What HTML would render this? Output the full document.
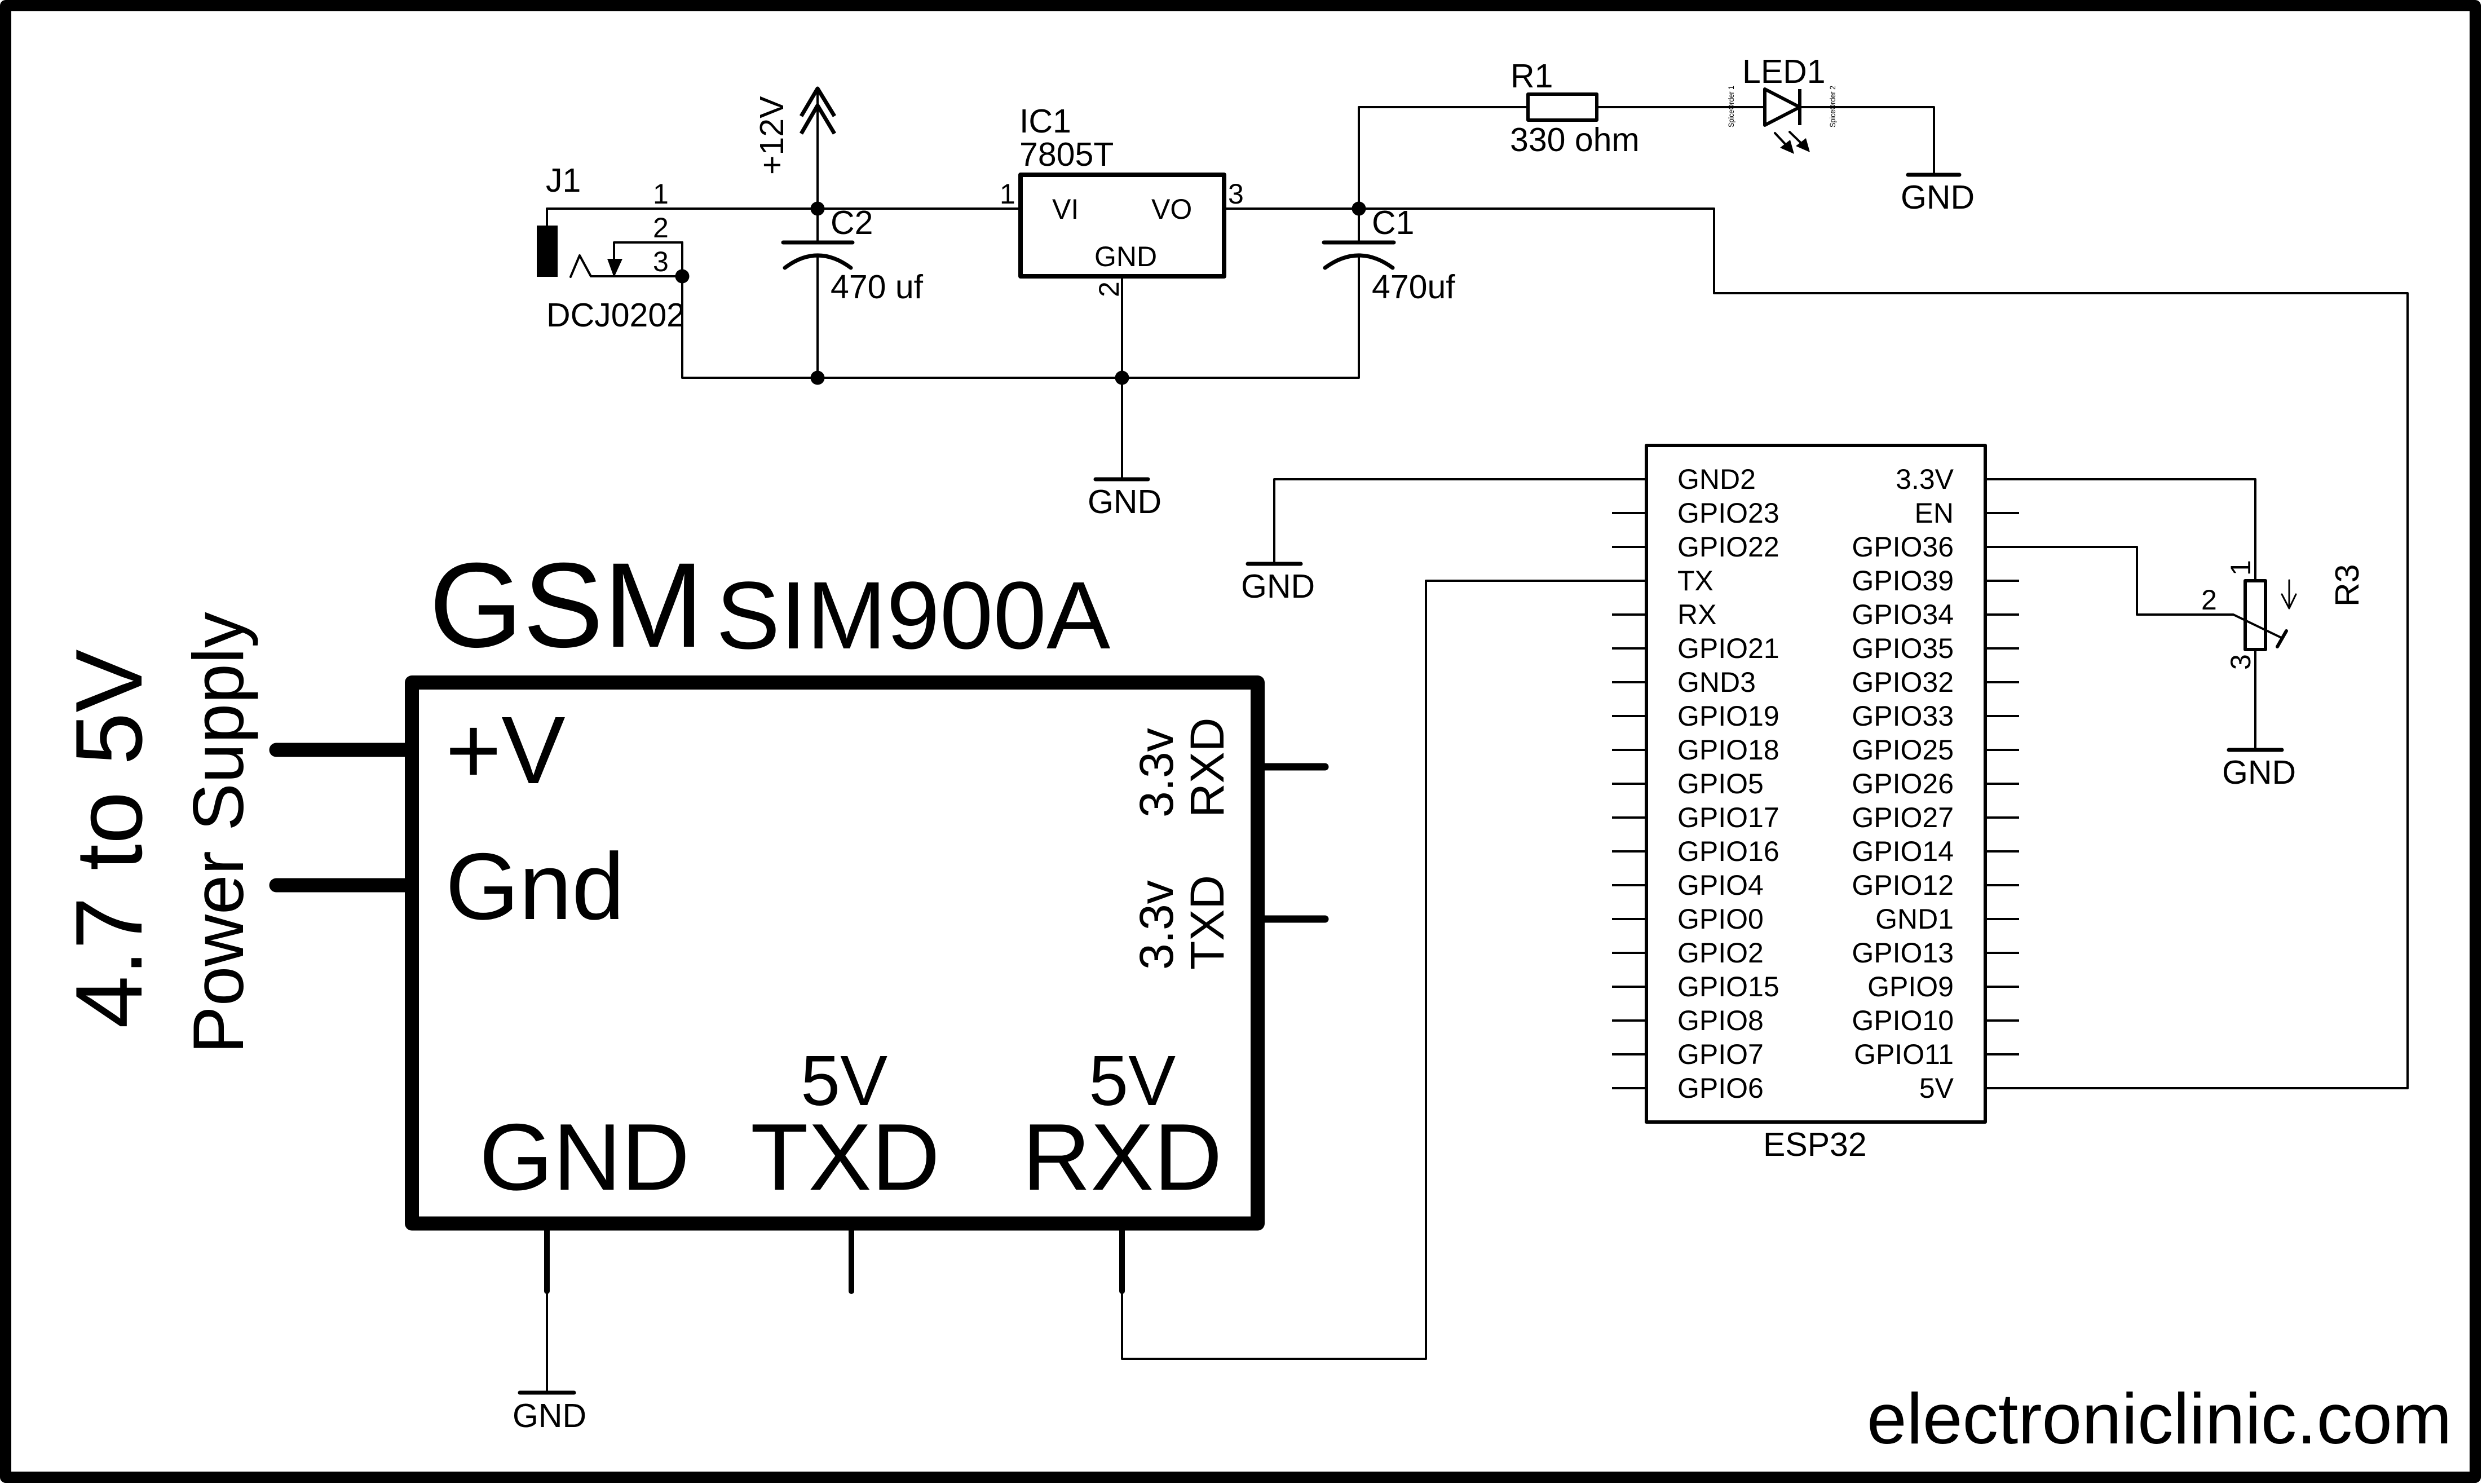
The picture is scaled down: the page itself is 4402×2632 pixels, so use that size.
<!DOCTYPE html>
<html><head><meta charset="utf-8"><style>
html,body{margin:0;padding:0;background:#fff}
svg{display:block}
text{font-family:"Liberation Sans",sans-serif;fill:#000}
.w{fill:none;stroke:#000;stroke-width:4;stroke-linecap:round;stroke-linejoin:round}
.p{fill:none;stroke:#000;stroke-width:4;stroke-linecap:butt}
.b{fill:none;stroke:#000;stroke-width:7;stroke-linecap:round;stroke-linejoin:round}
.f48{font-size:50px}.f56{font-size:59px}
</style></head><body>
<svg xmlns="http://www.w3.org/2000/svg" width="4402" height="2632" viewBox="0 0 4402 2632">
<rect width="4402" height="2632" fill="#fff"/>
<rect x="10" y="10" width="4380" height="2610" fill="none" stroke="#000" stroke-width="20" stroke-linejoin="round"/>

<!-- power section wires -->
<path class="w" d="M970 400V370H1810"/>
<path class="w" d="M1450 157V430M1450 453V670"/>
<path class="w" d="M1210 430V670H2410V453"/>
<path class="w" d="M2171 370H3040V520H4270V1930H3521"/>
<path class="w" d="M2410 430V190H2710"/>
<path class="w" d="M2832 190H3130M3192 190H3430V310"/>
<path class="w" d="M1990 490V850"/>
<path class="b" d="M1421 206L1450 157L1480 206M1421 237L1450 187L1480 237" style="stroke-linecap:butt"/>
<rect x="952" y="400" width="37" height="91"/>
<path class="w" d="M1012 491L1028 453L1048 490H1210M1089 490V430H1210"/>
<polygon points="1077,459 1104,459 1089,492"/>
<circle cx="1450" cy="370" r="12.5"/><circle cx="1210" cy="490" r="12.5"/><circle cx="1450" cy="670" r="12.5"/><circle cx="1990" cy="670" r="12.5"/><circle cx="2410" cy="370" r="12.5"/>
<path class="b" d="M1389 430H1512M2348 430H2472"/>
<path class="b" d="M1392 475Q1450 431 1509 475M2350 475Q2410 431 2470 475"/>
<rect x="1810" y="310" width="361" height="180" fill="#fff" stroke="#000" stroke-width="8" stroke-linejoin="round"/>
<path class="b" d="M1943 850H2036M3384 310H3475M2213 1000H2307M3953 1330H4047M922 2470H1018"/>
<rect x="2710" y="167" width="122" height="46" fill="none" stroke="#000" stroke-width="6" stroke-linejoin="round"/>
<path d="M3130 158V222L3192 190ZM3192 158V222" fill="none" stroke="#000" stroke-width="6" stroke-linejoin="round"/>
<path class="w" d="M3148 236L3178 268M3174 234L3206 265"/>
<polygon points="3182,273 3157,262 3175,248"/><polygon points="3210,270 3185,259 3203,245"/>

<!-- ESP32 -->
<rect x="2920" y="790" width="601" height="1200" fill="#fff" stroke="#000" stroke-width="6" stroke-linejoin="round"/>
<path class="w" d="M2917 850H2260V1000M2917 1030H2529V2410H1990V2294"/>
<path class="w" d="M3524 850H4000V1030M3524 970H3790V1090H3961L4044 1130"/>
<path class="p" d="M2859 910H2917M2859 970H2917M2859 1090H2917M2859 1150H2917M2859 1210H2917M2859 1270H2917M2859 1330H2917M2859 1390H2917M2859 1450H2917M2859 1510H2917M2859 1570H2917M2859 1630H2917M2859 1690H2917M2859 1750H2917M2859 1810H2917M2859 1870H2917M2859 1930H2917"/>
<path class="p" d="M3524 910H3581M3524 1030H3581M3524 1090H3581M3524 1150H3581M3524 1210H3581M3524 1270H3581M3524 1330H3581M3524 1390H3581M3524 1450H3581M3524 1510H3581M3524 1570H3581M3524 1630H3581M3524 1690H3581M3524 1750H3581M3524 1810H3581M3524 1870H3581"/>
<g class="f48">
<text x="2975" y="867">GND2</text><text x="2975" y="927">GPIO23</text><text x="2975" y="987">GPIO22</text><text x="2975" y="1047">TX</text><text x="2975" y="1107">RX</text><text x="2975" y="1167">GPIO21</text><text x="2975" y="1227">GND3</text><text x="2975" y="1287">GPIO19</text><text x="2975" y="1347">GPIO18</text><text x="2975" y="1407">GPIO5</text><text x="2975" y="1467">GPIO17</text><text x="2975" y="1527">GPIO16</text><text x="2975" y="1587">GPIO4</text><text x="2975" y="1647">GPIO0</text><text x="2975" y="1707">GPIO2</text><text x="2975" y="1767">GPIO15</text><text x="2975" y="1827">GPIO8</text><text x="2975" y="1887">GPIO7</text><text x="2975" y="1947">GPIO6</text>
</g>
<g class="f48" text-anchor="end">
<text x="3465" y="867">3.3V</text><text x="3465" y="927">EN</text><text x="3465" y="987">GPIO36</text><text x="3465" y="1047">GPIO39</text><text x="3465" y="1107">GPIO34</text><text x="3465" y="1167">GPIO35</text><text x="3465" y="1227">GPIO32</text><text x="3465" y="1287">GPIO33</text><text x="3465" y="1347">GPIO25</text><text x="3465" y="1407">GPIO26</text><text x="3465" y="1467">GPIO27</text><text x="3465" y="1527">GPIO14</text><text x="3465" y="1587">GPIO12</text><text x="3465" y="1647">GND1</text><text x="3465" y="1707">GPIO13</text><text x="3465" y="1767">GPIO9</text><text x="3465" y="1827">GPIO10</text><text x="3465" y="1887">GPIO11</text><text x="3465" y="1947">5V</text>
</g>
<text class="f56" x="3127" y="2050">ESP32</text>

<!-- R3 -->
<rect x="3982" y="1030" width="36" height="122" fill="none" stroke="#000" stroke-width="6" stroke-linejoin="round"/>
<path class="w" d="M4000 1152V1330"/>
<path class="b" d="M4039 1147L4055 1119" style="stroke-width:6"/>
<path class="w" d="M4060 1029V1079M4047 1054L4060 1079L4072 1054" style="stroke-width:3"/>
<text class="f48" transform="translate(3991,1021) rotate(-90)">1</text>
<text class="f48" transform="translate(3991,1188) rotate(-90)">3</text>
<text class="f48" x="3904" y="1081">2</text>
<text class="f56" transform="translate(4183,1076) rotate(-90)">R3</text>

<!-- power labels -->
<text class="f56" x="968" y="340">J1</text>
<text class="f48" x="1158" y="361">1</text><text class="f48" x="1158" y="421">2</text><text class="f48" x="1158" y="481">3</text>
<text class="f56" x="969" y="579">DCJ0202</text>
<text class="f56" transform="translate(1389,310) rotate(-90)">+12V</text>
<text class="f56" x="1473" y="415">C2</text><text class="f56" x="1473" y="529">470 uf</text>
<text class="f56" x="1808" y="235">IC1</text><text class="f56" x="1808" y="294">7805T</text>
<text class="f48" x="1773" y="361">1</text><text class="f48" x="2178" y="361">3</text>
<text class="f48" x="1866" y="388">VI</text><text class="f48" x="2042" y="388">VO</text><text class="f48" x="1941" y="472">GND</text>
<text class="f48" transform="translate(1984,527) rotate(-90)">2</text>
<text class="f56" x="2433" y="415">C1</text><text class="f56" x="2433" y="529">470uf</text>
<text class="f56" x="2679" y="155">R1</text><text class="f56" x="2678" y="268">330 ohm</text><text class="f56" x="3090" y="147">LED1</text>
<text font-size="14" textLength="74" lengthAdjust="spacingAndGlyphs" transform="translate(3075,226) rotate(-90)">SpiceOrder 1</text>
<text font-size="14" textLength="74" lengthAdjust="spacingAndGlyphs" transform="translate(3255,226) rotate(-90)">SpiceOrder 2</text>
<text class="f56" x="3371" y="370">GND</text><text class="f56" x="1929" y="910">GND</text><text class="f56" x="2201" y="1060">GND</text><text class="f56" x="3941" y="1390">GND</text><text class="f56" x="909" y="2531">GND</text>

<!-- GSM module -->
<rect x="730.5" y="1210.5" width="1500" height="959.5" fill="none" stroke="#000" stroke-width="25" stroke-linejoin="round"/>
<path d="M490 1330H718M490 1570H718" fill="none" stroke="#000" stroke-width="25" stroke-linecap="round"/>
<path d="M2243 1360H2350M2243 1630H2350" fill="none" stroke="#000" stroke-width="13" stroke-linecap="round"/>
<path d="M970 2182V2290M1510 2182V2290M1990 2182V2290" fill="none" stroke="#000" stroke-width="10" stroke-linecap="round"/>
<path class="w" d="M970 2294V2470"/>
<text font-size="214" x="761" y="1147">GSM</text>
<text font-size="170" x="1270" y="1150">SIM900A</text>
<text font-size="170" x="790" y="1389">+V</text>
<text font-size="168" x="790" y="1630">Gnd</text>
<text font-size="168" transform="translate(251,1824) rotate(-90)">4.7 to 5V</text>
<text font-size="127" transform="translate(431,1869) rotate(-90)">Power Supply</text>
<text font-size="84" transform="translate(2080,1450) rotate(-90)">3.3v</text>
<text font-size="84" transform="translate(2170,1450) rotate(-90)">RXD</text>
<text font-size="84" transform="translate(2080,1720) rotate(-90)">3.3v</text>
<text font-size="84" transform="translate(2170,1720) rotate(-90)">TXD</text>
<text font-size="126" x="1420" y="1960">5V</text>
<text font-size="126" x="1931" y="1960">5V</text>
<text font-size="168" x="850" y="2110">GND</text>
<text font-size="168" x="1331" y="2110">TXD</text>
<text font-size="168" x="1813" y="2110">RXD</text>
<text font-size="127" x="3311" y="2560">electroniclinic.com</text>
</svg>
</body></html>
